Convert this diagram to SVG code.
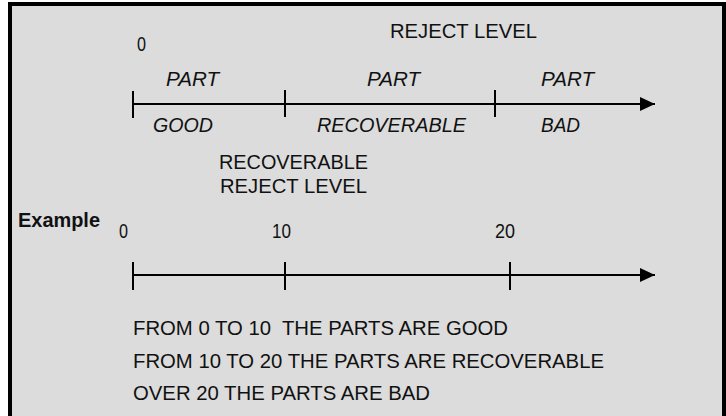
<svg xmlns="http://www.w3.org/2000/svg" width="726" height="416" viewBox="0 0 726 416">
<style>
.t{font-family:"Liberation Sans",Arial,sans-serif;font-size:20px;fill:#111;white-space:pre}
.i{font-style:italic}
.b{font-weight:bold}
.ln{stroke:#000;stroke-width:2;fill:none}
</style>
<defs>
<marker id="ah" markerWidth="16" markerHeight="16" refX="15" refY="7" orient="auto" markerUnits="userSpaceOnUse">
<path d="M0,0 L15,7 L0,14 Z" fill="#000"/>
</marker>
</defs>
<rect x="10" y="4" width="714" height="420" fill="#dcdcdc" stroke="#000" stroke-width="4"/>
<g id="connectors">
<line class="ln" x1="133" y1="104" x2="655" y2="104" marker-end="url(#ah)"/>
<line class="ln" x1="133" y1="91" x2="133" y2="118"/>
<line class="ln" x1="285" y1="90" x2="285" y2="117"/>
<line class="ln" x1="495" y1="90" x2="495" y2="117"/>
<line class="ln" x1="133" y1="275" x2="655" y2="275" marker-end="url(#ah)"/>
<line class="ln" x1="133" y1="262" x2="133" y2="290"/>
<line class="ln" x1="285" y1="262" x2="285" y2="290"/>
<line class="ln" x1="510" y1="262" x2="510" y2="290"/>
</g>
<g id="labels-top">
<text class="t" x="390" y="38" textLength="147" lengthAdjust="spacingAndGlyphs">REJECT LEVEL</text>
<text class="t" x="137" y="51" textLength="9" lengthAdjust="spacingAndGlyphs">0</text>
<text class="t i" x="166" y="86" textLength="53" lengthAdjust="spacingAndGlyphs">PART</text>
<text class="t i" x="367" y="86" textLength="53" lengthAdjust="spacingAndGlyphs">PART</text>
<text class="t i" x="541" y="86" textLength="53" lengthAdjust="spacingAndGlyphs">PART</text>
<text class="t i" x="153" y="132" textLength="60" lengthAdjust="spacingAndGlyphs">GOOD</text>
<text class="t i" x="317" y="132" textLength="149" lengthAdjust="spacingAndGlyphs">RECOVERABLE</text>
<text class="t i" x="541" y="132" textLength="39" lengthAdjust="spacingAndGlyphs">BAD</text>
<text class="t" x="219" y="169" textLength="149" lengthAdjust="spacingAndGlyphs">RECOVERABLE</text>
<text class="t" x="220" y="193" textLength="147" lengthAdjust="spacingAndGlyphs">REJECT LEVEL</text>
</g>
<g id="labels-example">
<text class="t b" x="18" y="227" font-size="18" textLength="82" lengthAdjust="spacingAndGlyphs">Example</text>
<text class="t" x="119" y="238" textLength="9" lengthAdjust="spacingAndGlyphs">0</text>
<text class="t" x="272" y="238" textLength="19" lengthAdjust="spacingAndGlyphs">10</text>
<text class="t" x="495" y="238" textLength="20" lengthAdjust="spacingAndGlyphs">20</text>
<text class="t" x="133" y="335" textLength="375" lengthAdjust="spacingAndGlyphs" xml:space="preserve">FROM 0 TO 10  THE PARTS ARE GOOD</text>
<text class="t" x="133" y="368" textLength="471" lengthAdjust="spacingAndGlyphs">FROM 10 TO 20 THE PARTS ARE RECOVERABLE</text>
<text class="t" x="133" y="400" textLength="297" lengthAdjust="spacingAndGlyphs">OVER 20 THE PARTS ARE BAD</text>
</g>
</svg>
